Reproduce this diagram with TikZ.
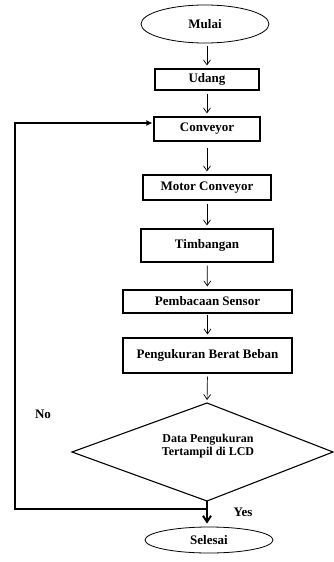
\documentclass[tikz,border=0pt]{standalone}
\usepackage{fontspec}
\setmainfont{Liberation Serif}
\usetikzlibrary{shapes.geometric,arrows.meta}
\begin{document}
\begin{tikzpicture}[x=1pt,y=-1pt,
  every node/.style={font=\fontsize{13}{14}\selectfont\bfseries},
  stepbox/.style={draw,line width=1.1pt,inner sep=0pt,minimum width=#1},
  term/.style={draw,ellipse,line width=0.8pt,inner sep=0pt,minimum width=128pt},
  flow/.style={-{Straight Barb[length=5pt,width=7pt]},line width=0.7pt,shorten <=3pt,shorten >=3pt},
  loopline/.style={line width=1.8pt},
  label/.style={font=\fontsize{13}{14}\selectfont\bfseries}]
\useasboundingbox (0,0) rectangle (334,562);
\node[term,minimum height=38pt] (mulai) at (205,24) {Mulai};
\node[stepbox=104pt,minimum height=21pt] (udang) at (207,79.5) {Udang};
\node[stepbox=106pt,minimum height=24pt] (conv) at (207,129) {Conveyor};
\node[stepbox=128pt,minimum height=25pt] (motor) at (207,187.5) {Motor Conveyor};
\node[stepbox=132pt,minimum height=33pt] (timb) at (207,245.5) {Timbangan};
\node[stepbox=169pt,minimum height=23pt] (baca) at (207.5,301.5) {Pembacaan Sensor};
\node[stepbox=169pt,minimum height=35pt] (ukur) at (207.5,355.5) {Pengukuran Berat Beban};
\coordinate (dT) at (207,403);
\coordinate (dL) at (72,452);
\coordinate (dR) at (333,452);
\coordinate (dB) at (207,501);
\draw[line width=1.1pt,line join=miter] (dL) -- (dT) -- (dR) -- (dB) -- cycle;
\node[align=center,font=\fontsize{12}{12.5}\selectfont\bfseries] (dec) at (208,446) {Data Pengukuran\\Tertampil di LCD};
\node[term,minimum height=26pt] (selesai) at (209,540) {Selesai};
\coordinate (j) at (207,509);
\coordinate (cL) at (15,509);
\coordinate (cT) at (15,123);
\draw[flow] (mulai.south -| udang.north) -- (udang.north);
\draw[flow] (udang) -- (conv);
\draw[flow,shorten <=6pt] (conv) -- (motor);
\draw[flow] (motor) -- (timb);
\draw[flow] (timb) -- (baca);
\draw[flow,shorten <=1pt] (baca) -- (ukur);
\draw[flow] (ukur.south) -- (dT);
\draw[-{Straight Barb[length=6pt,width=8pt]},line width=2pt,shorten >=3pt] (dB) -- (dB |- selesai.north);
\draw[loopline,-{Latex[length=6pt,width=6pt]},shorten >=1pt] (j) -- (cL) -- (cT) -- (cT -| conv.west);
\node[label] (no) at (43,414) {No};
\node[label] (yes) at (243,512) {Yes};
\end{tikzpicture}
\end{document}
